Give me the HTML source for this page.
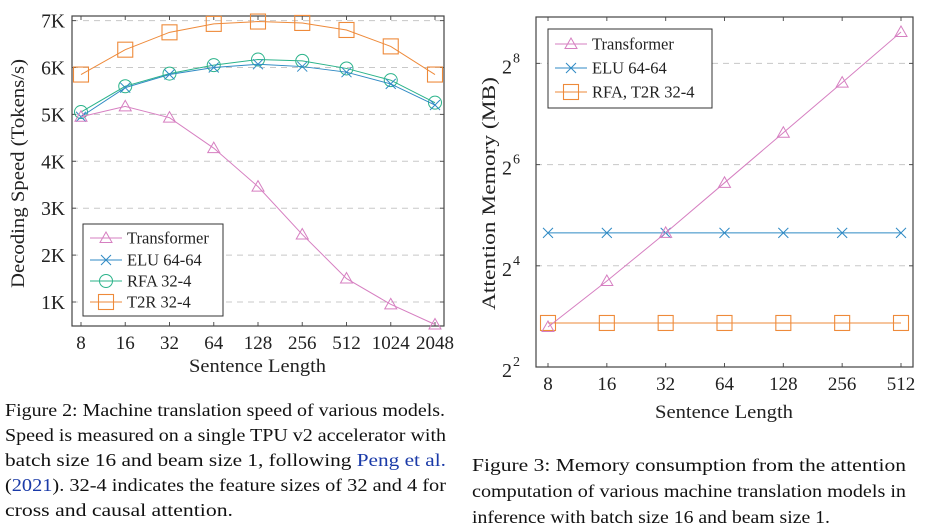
<!DOCTYPE html>
<html><head><meta charset="utf-8"><style>
html,body{margin:0;padding:0;background:#fff;}
svg{display:block;font-family:"Liberation Serif",serif;}
</style></head><body>
<svg id="svg" width="928" height="530" viewBox="0 0 928 530">
<g id="left"></g>
<g id="right"></g>
<g font-size="17.5" fill="#111">
<text x="5" y="416" textLength="440" lengthAdjust="spacingAndGlyphs">Figure 2: Machine translation speed of various models.</text>
<text x="5" y="441" textLength="441" lengthAdjust="spacingAndGlyphs">Speed is measured on a single TPU v2 accelerator with</text>
<text x="5" y="466" textLength="441" lengthAdjust="spacingAndGlyphs">batch size 16 and beam size 1, following <tspan fill="#1a3aa8">Peng et al.</tspan></text>
<text x="5" y="491" textLength="441" lengthAdjust="spacingAndGlyphs">(<tspan fill="#1a3aa8">2021</tspan>). 32-4 indicates the feature sizes of 32 and 4 for</text>
<text x="5" y="516" textLength="228" lengthAdjust="spacingAndGlyphs">cross and causal attention.</text>
</g>
<g font-size="17.5" fill="#111">
<text x="472" y="471" textLength="434" lengthAdjust="spacingAndGlyphs">Figure 3:  Memory consumption from the attention</text>
<text x="472" y="497" textLength="434" lengthAdjust="spacingAndGlyphs">computation of various machine translation models in</text>
<text x="472" y="523" textLength="358" lengthAdjust="spacingAndGlyphs">inference with batch size 16 and beam size 1.</text>
</g>
</svg>
<script>
// ---- Left chart data ----
const speedCategories = ["8","16","32","64","128","256","512","1024","2048"];
const speedTransformer = [4.95,5.17,4.93,4.28,3.46,2.44,1.5,0.95,0.52];
const speedELU = [4.95,5.57,5.85,6.0,6.07,6.02,5.9,5.65,5.2];
const speedRFA = [5.05,5.6,5.87,6.05,6.17,6.14,5.98,5.73,5.25];
const speedT2R = [5.85,6.38,6.75,6.93,6.98,6.95,6.8,6.45,5.85];
const speedTicks = [1,2,3,4,5,6,7];
const speedTickLabels = ["1K","2K","3K","4K","5K","6K","7K"];
// ---- Right chart data ----
const memCategories = ["8","16","32","64","128","256","512"];
const memTransformer = [2.79,3.7,4.65,5.64,6.63,7.62,8.62]; // log2 MB
const memELU = [4.65,4.65,4.65,4.65,4.65,4.65,4.65];
const memRFA = [2.87,2.87,2.87,2.87,2.87,2.87,2.87];
const memTicks = [2,4,6,8];

const NS="http://www.w3.org/2000/svg";
const PINK="#d67fc1",BLUE="#2f8ac4",GREEN="#2bb38a",ORANGE="#ee8a3a";
function mk(parent,tag,attrs){const e=document.createElementNS(NS,tag);for(const k in attrs)e.setAttribute(k,attrs[k]);parent.appendChild(e);return e;}
function marker(g,type,x,y,color){
  let m;
  if(type==="tri"){m=mk(g,"polygon",{points:`${x},${y-6} ${x-6},${y+4.5} ${x+6},${y+4.5}`,fill:"none",stroke:color,"stroke-width":1});}
  else if(type==="x"){m=mk(g,"path",{d:`M${x-5},${y-5}L${x+5},${y+5}M${x-5},${y+5}L${x+5},${y-5}`,stroke:color,"stroke-width":1});}
  else if(type==="circ"){m=mk(g,"circle",{cx:x,cy:y,r:6.5,fill:"none",stroke:color,"stroke-width":1});}
  else {m=mk(g,"rect",{x:x-7.5,y:y-7.5,width:15,height:15,fill:"none",stroke:color,"stroke-width":1.1});}
  
  
  return m;
}
function series(g,vals,xf,yf,color,type,name){
  const sg=mk(g,"g",{});
  
  
  const pts=vals.map((v,i)=>xf(i)+","+yf(v)).join(" ");
  mk(sg,"polyline",{points:pts,fill:"none",stroke:color,"stroke-width":1});
  vals.forEach((v,i)=>marker(sg,type,xf(i),yf(v),color));
}
function legend(g,x,y,w,h,entries,rowY){
  const lg=mk(g,"g",{});
  
  
  mk(lg,"rect",{x:x,y:y,width:w,height:h,fill:"#fff",stroke:"#333","stroke-width":1});
  entries.forEach((e,i)=>{
    const yy=rowY[i];
    const eg=mk(lg,"g",{});
    
    
    mk(eg,"line",{x1:x+7,x2:x+39,y1:yy,y2:yy,stroke:e.c,"stroke-width":1});
    marker(eg,e.t,x+23,yy,e.c);
    const t=mk(eg,"text",{x:x+44,y:yy+5.5,"font-size":16.5,fill:"#222"});t.textContent=e.n;
  });
}
// ---- Left chart ----
(function(){
  const g=document.getElementById("left");
  const L=72,R=444,T=16,B=326;
  const xf=i=>81+i*(435-81)/(speedCategories.length-1);
  const yf=v=>302-(v-1)*46.9;
  speedTicks.forEach((t,i)=>{
    const y=yf(t);
    const gl=mk(g,"line",{x1:L,x2:R,y1:y,y2:y,stroke:"#c8c8c8","stroke-dasharray":"6,5","stroke-width":1});
    
    
    mk(g,"line",{x1:L,x2:L+4,y1:y,y2:y,stroke:"#555"});
    mk(g,"line",{x1:R-4,x2:R,y1:y,y2:y,stroke:"#555"});
    const tx=mk(g,"text",{x:L-7,y:y+7,"text-anchor":"end","font-size":19.5,fill:"#222"});
    tx.textContent=speedTickLabels[i];
    
    
  });
  speedCategories.forEach((c,i)=>{
    const x=xf(i);
    mk(g,"line",{x1:x,x2:x,y1:B,y2:B-4,stroke:"#555"});
    mk(g,"line",{x1:x,x2:x,y1:T,y2:T+4,stroke:"#555"});
    const tx=mk(g,"text",{x:x,y:B+23,"text-anchor":"middle","font-size":19,fill:"#222"});
    tx.textContent=c;
    
    
  });
  const fr=mk(g,"rect",{x:L,y:T,width:R-L,height:B-T,fill:"none",stroke:"#444","stroke-width":1.2});
  
  
  series(g,speedT2R,xf,yf,ORANGE,"sq","series-t2r");
  series(g,speedRFA,xf,yf,GREEN,"circ","series-rfa");
  series(g,speedELU,xf,yf,BLUE,"x","series-elu");
  series(g,speedTransformer,xf,yf,PINK,"tri","series-transformer");
  legend(g,83,224,140,92,[{n:"Transformer",c:PINK,t:"tri"},{n:"ELU 64-64",c:BLUE,t:"x"},{n:"RFA 32-4",c:GREEN,t:"circ"},{n:"T2R 32-4",c:ORANGE,t:"sq"}],[238,260,281,302]);
  const xl=mk(g,"text",{x:189,y:372,"font-size":19,fill:"#222",textLength:137,lengthAdjust:"spacingAndGlyphs"});xl.textContent="Sentence Length";
  
  
  const yl=mk(g,"text",{x:-115,y:0,"font-size":19,fill:"#222",textLength:229,lengthAdjust:"spacingAndGlyphs",transform:"translate(24,173) rotate(-90)"});yl.textContent="Decoding Speed (Tokens/s)";
  
  
})();
// ---- Right chart ----
(function(){
  const g=document.getElementById("right");
  const L=536,R=913,T=17,B=367;
  const xf=i=>548+i*(901-548)/(memCategories.length-1);
  const yf=v=>367-(v-2)*50.6;
  memTicks.forEach(t=>{
    const y=yf(t);
    if(t>2){
      const gl=mk(g,"line",{x1:L,x2:R,y1:y,y2:y,stroke:"#c8c8c8","stroke-dasharray":"6,5","stroke-width":1});
      
      
    }
    mk(g,"line",{x1:L,x2:L+4,y1:y,y2:y,stroke:"#555"});
    mk(g,"line",{x1:R-4,x2:R,y1:y,y2:y,stroke:"#555"});
    const tx=mk(g,"text",{x:L-24,y:y+10,"text-anchor":"end","font-size":20,fill:"#222"});
    tx.textContent="2";
    const sp=mk(g,"text",{x:L-23,y:y-1,"font-size":14,fill:"#222"});sp.textContent=String(t);
    
    
  });
  memCategories.forEach((c,i)=>{
    const x=xf(i);
    mk(g,"line",{x1:x,x2:x,y1:B,y2:B-4,stroke:"#555"});
    mk(g,"line",{x1:x,x2:x,y1:T,y2:T+4,stroke:"#555"});
    const tx=mk(g,"text",{x:x,y:B+23,"text-anchor":"middle","font-size":19,fill:"#222"});
    tx.textContent=c;
    
    
  });
  const fr=mk(g,"rect",{x:L,y:T,width:R-L,height:B-T,fill:"none",stroke:"#444","stroke-width":1.2});
  
  
  series(g,memRFA,xf,yf,ORANGE,"sq","series-rfa-t2r");
  series(g,memELU,xf,yf,BLUE,"x","series-elu");
  series(g,memTransformer,xf,yf,PINK,"tri","series-transformer");
  legend(g,548,29,164,79,[{n:"Transformer",c:PINK,t:"tri"},{n:"ELU 64-64",c:BLUE,t:"x"},{n:"RFA, T2R 32-4",c:ORANGE,t:"sq"}],[44,68,92]);
  const xl=mk(g,"text",{x:655,y:418,"font-size":19,fill:"#222",textLength:138,lengthAdjust:"spacingAndGlyphs"});xl.textContent="Sentence Length";
  
  
  const yl=mk(g,"text",{x:-117,y:0,"font-size":19,fill:"#222",textLength:233,lengthAdjust:"spacingAndGlyphs",transform:"translate(495,193) rotate(-90)"});yl.textContent="Attention Memory (MB)";
  
  
})();
</script>
</body></html>
